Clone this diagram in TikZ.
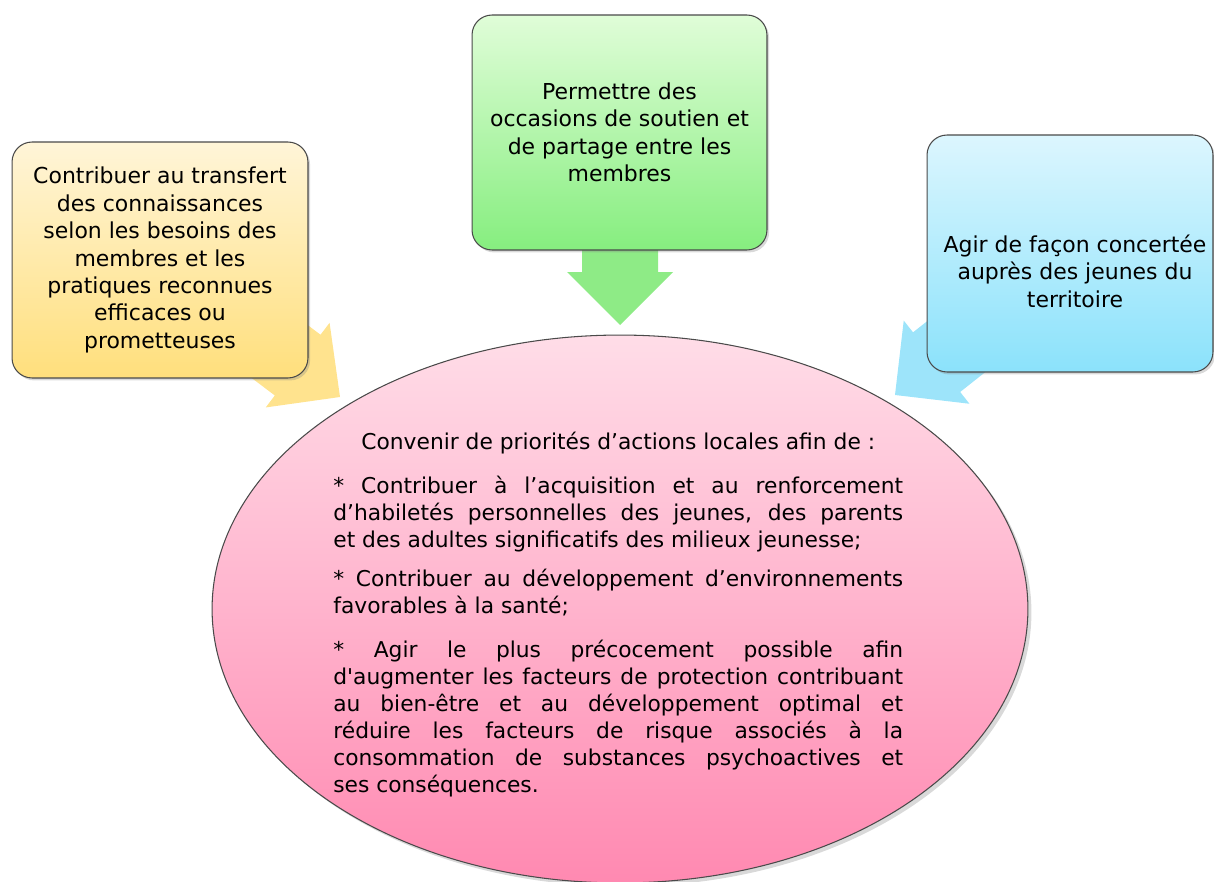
\documentclass[tikz,border=0pt]{standalone}
\usepackage{fontspec}
\setmainfont{DejaVu Sans}
\usetikzlibrary{shapes.geometric,shadows}
\setlength{\parindent}{0pt}

\definecolor{bord}{HTML}{4A4A4A}
\definecolor{jauneclair}{HTML}{FFF5D8}
\definecolor{jaunefonce}{HTML}{FFDF7C}
\definecolor{jaunefleche}{HTML}{FFE38E}
\definecolor{vertclair}{HTML}{E0FDD8}
\definecolor{vertfonce}{HTML}{86EE7F}
\definecolor{vertfleche}{HTML}{8EEB86}
\definecolor{bleuclair}{HTML}{DCF6FE}
\definecolor{bleufonce}{HTML}{8BE2FB}
\definecolor{bleufleche}{HTML}{9DE4FA}
\definecolor{roseclair}{HTML}{FFDDE8}
\definecolor{rosefonce}{HTML}{FF89B1}

\begin{document}
\begin{tikzpicture}[
		x=0.02cm, y=-0.02cm,
		bulle/.style={rectangle, rounded corners=0.4cm, draw=bord, line width=0.6pt,
				inner sep=0pt, align=center, font=\fontsize{12.5}{15.6}\selectfont,
				drop shadow={shadow xshift=1.2pt, shadow yshift=-1.4pt, opacity=0.3}},
		texte/.style={inner sep=0pt, align=center, font=\fontsize{12.5}{15.6}\selectfont}
	]
	\useasboundingbox (0,0) rectangle (1214,882);

	% fleches
	\coordinate (pointeJ) at (340,397);
	\coordinate (pointeV) at (620,325);
	\coordinate (pointeB) at (895,395);
	\begin{scope}[shift={(pointeJ)}, rotate=-37]
		\fill[jaunefleche] (0,0) -- (-53,-53) -- (-53,-38) -- (-130,-38) -- (-130,38) -- (-53,38) -- (-53,53) -- cycle;
	\end{scope}
	\begin{scope}[shift={(pointeV)}, rotate=-90]
		\fill[vertfleche] (0,0) -- (-53,-53) -- (-53,-38) -- (-130,-38) -- (-130,38) -- (-53,38) -- (-53,53) -- cycle;
	\end{scope}
	\begin{scope}[shift={(pointeB)}, rotate=-141.7]
		\fill[bleufleche] (0,0) -- (-53,-53) -- (-53,-38) -- (-130,-38) -- (-130,38) -- (-53,38) -- (-53,53) -- cycle;
	\end{scope}

	% trois boites
	\node[bulle, minimum width=5.92cm, minimum height=4.72cm, top color=jauneclair, bottom color=jaunefonce] (transfert) at (160,260)
	{Contribuer au transfert\\des connaissances\\selon les besoins des\\membres et les\\pratiques reconnues\\efficaces ou\\prometteuses};
	\node[bulle, minimum width=5.9cm, minimum height=4.7cm, top color=vertclair, bottom color=vertfonce] (soutien) at (619.5,132.5)
	{Permettre des\\occasions de soutien et\\de partage entre les\\membres};
	\node[bulle, minimum width=5.72cm, minimum height=4.74cm, top color=bleuclair, bottom color=bleufonce] (concert) at (1070,253.5) {};
	\node[texte] (concerttxt) at (1075,271) {Agir de façon concertée\\auprès des jeunes du\\territoire};

	% ellipse centrale
	\node[ellipse, draw=bord, line width=0.6pt, minimum width=16.32cm, minimum height=10.96cm,
		top color=roseclair, bottom color=rosefonce,
		drop shadow={shadow xshift=2pt, shadow yshift=-2pt, opacity=0.3}] (priorites) at (620,609) {};
	\node[inner sep=0pt, text width=324.3pt, align=justify, anchor=north west,
		font=\fontsize{12.4}{15.3}\selectfont] (prioritestxt) at (333,432) {%
		{\centering Convenir de priorités d’actions locales afin de :\par}
		\vspace{9.5pt}
		* Contribuer à l’acquisition et au renforcement\linebreak
		d’habiletés personnelles des jeunes, des parents\linebreak
		et des adultes significatifs des milieux jeunesse;\par
		\vspace{7pt}
		* Contribuer au développement d’environnements\linebreak
		favorables à la santé;\par
		\vspace{10pt}
		* Agir le plus précocement possible afin\linebreak
		d\textquotesingle augmenter les facteurs de protection contribuant\linebreak
		au bien-être et au développement optimal et\linebreak
		réduire les facteurs de risque associés à la\linebreak
		consommation de substances psychoactives et\linebreak
		ses conséquences.\par};
\end{tikzpicture}
\end{document}
